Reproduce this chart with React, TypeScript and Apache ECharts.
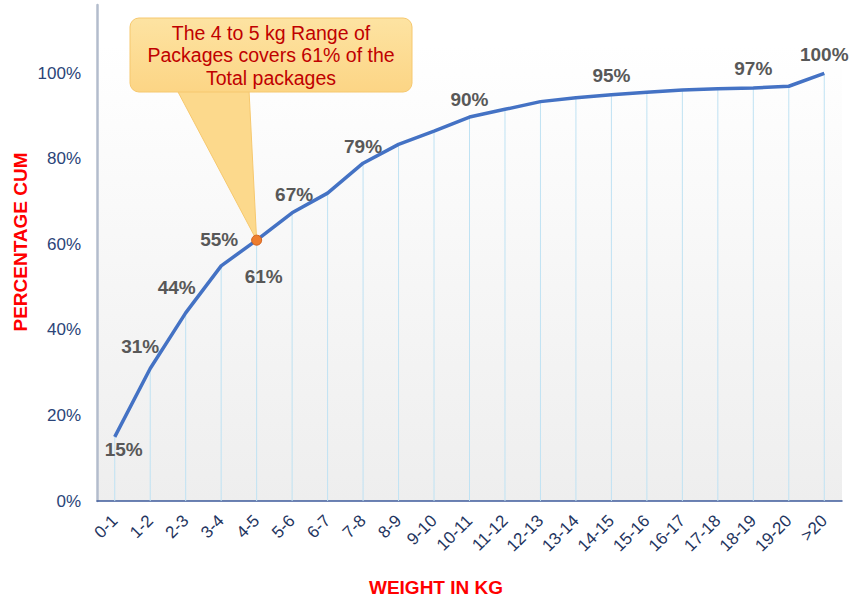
import React, { useEffect, useRef } from "react";
import * as echarts from "echarts";

const categories = [
  "0-1", "1-2", "2-3", "3-4", "4-5", "5-6", "6-7", "7-8", "8-9", "9-10",
  "10-11", "11-12", "12-13", "13-14", "14-15", "15-16", "16-17", "17-18",
  "18-19", "19-20", ">20",
];
const cumPercent = [
  15, 31, 44, 55, 61, 67.4, 72, 79, 83.4, 86.5, 89.8, 91.6, 93.4, 94.3, 95,
  95.6, 96.1, 96.4, 96.6, 97, 100,
];
const yTickValues = [0, 20, 40, 60, 80, 100];
const labeledIndices = [0, 1, 2, 3, 4, 5, 7, 10, 14, 18, 20];
const highlightIndex = 4;
const calloutLines = [
  "The 4 to 5 kg Range of",
  "Packages covers 61% of the",
  "Total packages",
];
const yAxisTitle = "PERCENTAGE CUM";
const xAxisTitle = "WEIGHT IN KG";

// label offsets (style only)
const labelOffsets: Record<number, [number, number]> = {
  0: [9, 13],
  1: [-10, -22],
  2: [-9, -25],
  3: [-2, -26],
  4: [7, 36],
  5: [2, -18],
  7: [0, -17],
  10: [0, -18],
  14: [0, -19],
  18: [0, -19],
  20: [0, -19],
};

const FONT = "Arial, 'Liberation Sans', sans-serif";

export default function App() {
  const ref = useRef<HTMLDivElement>(null);
  useEffect(() => {
    if (!ref.current) return;
    const chart = echarts.init(ref.current, undefined, { renderer: "svg" });
    const lineData = cumPercent.map((v, i) => {
      const item: any = { value: v };
      if (labeledIndices.includes(i)) {
        item.label = {
          show: true,
          position: "inside",
          offset: labelOffsets[i] || [0, -18],
          formatter: Math.round(v) + "%",
          fontFamily: FONT,
          fontWeight: "bold",
          fontSize: 19,
          color: "#585858",
        };
      }
      if (i === highlightIndex) {
        item.symbolSize = 10;
        item.itemStyle = { color: "#ee7d2e", borderColor: "#d2601a", borderWidth: 1 };
      }
      return item;
    });
    chart.setOption({
      animation: false,
      grid: {
        left: 97,
        right: 10,
        top: 5,
        bottom: 98,
        show: true,
        borderWidth: 0,
        backgroundColor: new echarts.graphic.LinearGradient(0, 0, 0, 1, [
          { offset: 0, color: "#ffffff" },
          { offset: 0.08, color: "#ffffff" },
          { offset: 1, color: "#eeeeee" },
        ]),
      },
      xAxis: {
        type: "category",
        data: categories,
        boundaryGap: true,
        axisLine: { lineStyle: { color: "#3d5a9b", width: 1.5 } },
        axisTick: { show: false },
        axisLabel: {
          rotate: 45,
          interval: 0,
          margin: 17,
          fontSize: 17,
          fontFamily: FONT,
          color: "#1f3560",
        },
        splitLine: { show: false },
      },
      yAxis: {
        type: "value",
        min: 0,
        max: 116,
        interval: 20,
        axisLine: { show: true, lineStyle: { color: "#b3bccc", width: 2.5 } },
        axisTick: { show: false },
        splitLine: { show: false },
        axisLabel: {
          margin: 16,
          fontSize: 17,
          fontFamily: FONT,
          color: "#2b4478",
          formatter: (v: number) => (yTickValues.includes(v) ? v + "%" : ""),
        },
      },
      series: [
        {
          type: "bar",
          data: cumPercent,
          barWidth: 1,
          itemStyle: { color: "#bfe2f3" },
          silent: true,
          z: 1,
        },
        {
          type: "line",
          data: lineData,
          symbol: "circle",
          symbolSize: 0,
          showSymbol: true,
          lineStyle: { color: "#4472c4", width: 3.5 },
          itemStyle: { color: "#4472c4" },
          z: 3,
        },
      ],
    });
    const tip = chart.convertToPixel({ seriesIndex: 1 }, [highlightIndex, cumPercent[highlightIndex]]) as number[];
    chart.setOption({
      graphic: [
        {
          type: "polygon",
          z: 2,
          shape: { points: [[177, 90], [249, 90], [tip[0], tip[1]]] },
          style: { fill: "#fcd98c", stroke: "#f6c86e", lineWidth: 1 },
        },
        {
          type: "rect",
          z: 2,
          shape: { x: 130, y: 18, width: 282, height: 74, r: 9 },
          style: {
            fill: new echarts.graphic.LinearGradient(0, 0, 0, 1, [
              { offset: 0, color: "#fde3a2" },
              { offset: 1, color: "#fcd585" },
            ]),
            stroke: "#f6c86e",
            lineWidth: 1,
          },
        },
        {
          type: "text",
          z: 3,
          x: 271,
          y: 55,
          style: {
            text: calloutLines.join("\n"),
            fill: "#c00000",
            font: `19.5px ${FONT}`,
            lineHeight: 22.5,
            align: "center",
            verticalAlign: "middle",
          },
        },
        {
          type: "text",
          x: 20,
          y: 242,
          rotation: Math.PI / 2,
          style: {
            text: yAxisTitle,
            fill: "#ff0000",
            font: `bold 19px ${FONT}`,
            align: "center",
            verticalAlign: "middle",
          },
        },
        {
          type: "text",
          x: 436,
          y: 587,
          style: {
            text: xAxisTitle,
            fill: "#ff0000",
            font: `bold 19px ${FONT}`,
            align: "center",
            verticalAlign: "middle",
          },
        },
      ],
    });
    return () => chart.dispose();
  }, []);
  return <div ref={ref} style={{ width: 852, height: 599, position: "absolute", left: 0, top: 0 }} />;
}
